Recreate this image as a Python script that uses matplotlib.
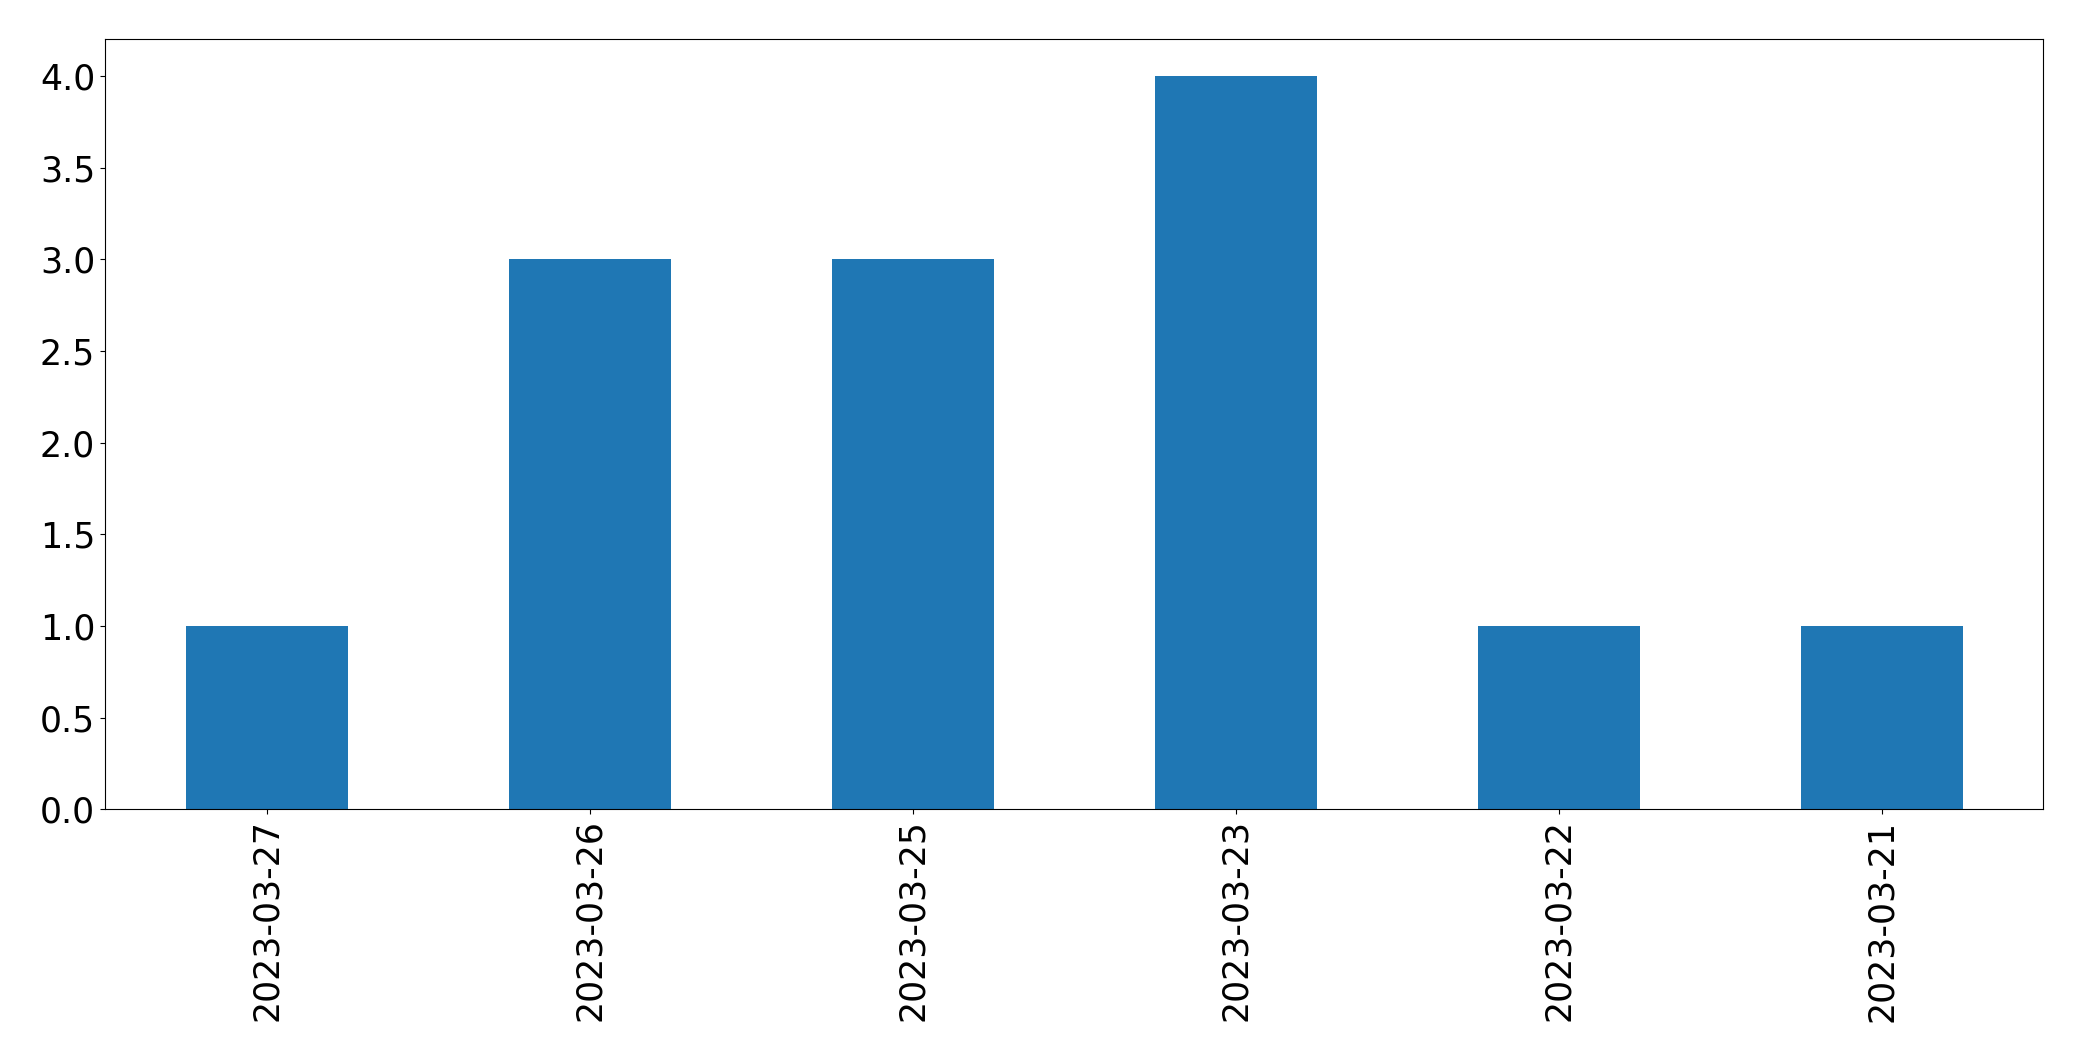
import matplotlib
matplotlib.use("Agg")
import matplotlib.pyplot as plt

# data
dates = ["2023-03-27", "2023-03-26", "2023-03-25", "2023-03-23", "2023-03-22", "2023-03-21"]
counts = [1, 3, 3, 4, 1, 1]

fig = plt.figure(figsize=(20.82, 10.61), dpi=100)
ax = fig.add_axes([0.0506, 0.2372, 0.9308, 0.7258])

x = range(len(dates))
ax.bar(x, counts, width=0.5, color="#1f77b4")
ax.set_xlim(-0.5, len(dates) - 0.5)
ax.set_ylim(0, 4.2)
ax.set_xticks(list(x))
ax.set_xticklabels(dates, rotation=90)
ax.tick_params(labelsize=25, length=3.8)

fig.savefig("out.png", dpi=100)
